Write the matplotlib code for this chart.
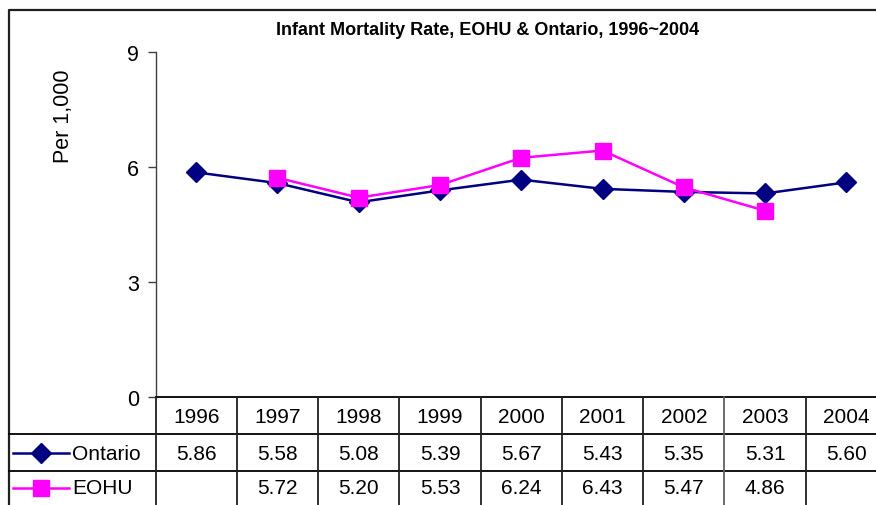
import matplotlib
matplotlib.use("Agg")
import matplotlib.pyplot as plt
import numpy as np

plt.rcParams['font.family'] = ['Liberation Sans', 'DejaVu Sans']

years = ['1996', '1997', '1998', '1999', '2000', '2001', '2002', '2003', '2004']
ontario = [5.86, 5.58, 5.08, 5.39, 5.67, 5.43, 5.35, 5.31, 5.60]
eohu = [None, 5.72, 5.20, 5.53, 6.24, 6.43, 5.47, 4.86, None]
series_names = ['Ontario', 'EOHU']
yticks = [0, 3, 6, 9]
title = 'Infant Mortality Rate, EOHU & Ontario, 1996~2004'
ylabel = 'Per 1,000'

W, H = 876, 506
fig = plt.figure(figsize=(W / 100, H / 100), dpi=100)

# pixel geometry
x0, x1 = 155.5, 887.0
ytop, ybot = 53.0, 398.0
row1, row2, row3 = 435.0, 471.5, 508.0
frame_l, frame_t = 9.0, 10.5

def fx(px):
    return px / W

def fy(py):
    return 1 - py / H

ax = fig.add_axes([fx(x0), fy(ybot), fx(x1) - fx(x0), fy(ytop) - fy(ybot)])
n = len(years)
xs = np.arange(n) + 0.5
ax.set_xlim(0, n)
ax.set_ylim(0, 9)

navy = '#000080'
mag = '#FF00FF'
ms_d, ms_s = 10, 11
ax.plot(xs, ontario, color=navy, lw=1.8, marker='D', ms=ms_d, mec=navy, mfc=navy, zorder=3, clip_on=False)
e = np.array([np.nan if v is None else v for v in eohu], dtype=float)
ax.plot(xs, e, color=mag, lw=1.8, marker='s', ms=ms_s, mec=mag, mfc=mag, zorder=4, clip_on=False)

for s in ['top', 'right', 'bottom']:
    ax.spines[s].set_visible(False)
ax.spines['left'].set_color('#404040')
ax.spines['left'].set_linewidth(1.0)
ax.set_xticks([])
ax.set_yticks(yticks)
ax.set_yticklabels([str(t) for t in yticks], fontsize=15.5)
ax.tick_params(axis='y', length=6, width=1.0, color='#404040', pad=6)

# overlay axes in pixel coordinates
ov = fig.add_axes([0, 0, 1, 1], facecolor='none')
ov.set_xlim(0, W)
ov.set_ylim(H, 0)
ov.axis('off')

lc = 'black'
lw = 1.3
# outer frame
ov.plot([frame_l, frame_l, W + 5], [H + 5, frame_t, frame_t], color='#202020', lw=1.6, clip_on=False)
# table horizontal lines
ov.plot([x0, W + 5], [ybot, ybot], color=lc, lw=lw)
ov.plot([frame_l, W + 5], [row1, row1], color=lc, lw=lw)
ov.plot([frame_l, W + 5], [row2, row2], color=lc, lw=lw)
# vertical lines
colw = (x1 - x0) / n
for i in range(n + 1):
    xv = x0 + i * colw
    ov.plot([xv, xv], [ybot, H + 5], color='#202020' if i != 7 else '#606060', lw=lw)

fs = 15
for i, yr in enumerate(years):
    cx = x0 + (i + 0.5) * colw
    ov.text(cx, (ybot + row1) / 2 + 1, yr, ha='center', va='center', fontsize=fs)
    ov.text(cx, (row1 + row2) / 2 + 1, f'{ontario[i]:.2f}', ha='center', va='center', fontsize=fs)
    if eohu[i] is not None:
        ov.text(cx, (row2 + row3) / 2 - 1, f'{eohu[i]:.2f}', ha='center', va='center', fontsize=fs)

# legend keys
ly1 = (row1 + row2) / 2 + 1
ly2 = (row2 + row3) / 2 - 1
ov.plot([13, 69], [ly1, ly1], color=navy, lw=1.8)
ov.plot([41], [ly1], marker='D', ms=ms_d, color=navy)
ov.plot([13, 69], [ly2, ly2], color=mag, lw=1.8)
ov.plot([41], [ly2], marker='s', ms=ms_s, color=mag)
ov.text(72, ly1, series_names[0], ha='left', va='center', fontsize=fs)
ov.text(72, ly2, series_names[1], ha='left', va='center', fontsize=fs)

# title and y label
ov.text(488, 30, title, ha='center', va='center', fontsize=13, fontweight='bold')
ov.text(63, 116, ylabel, ha='center', va='center', fontsize=15.5, rotation=90)

fig.savefig('out.png', dpi=100)
